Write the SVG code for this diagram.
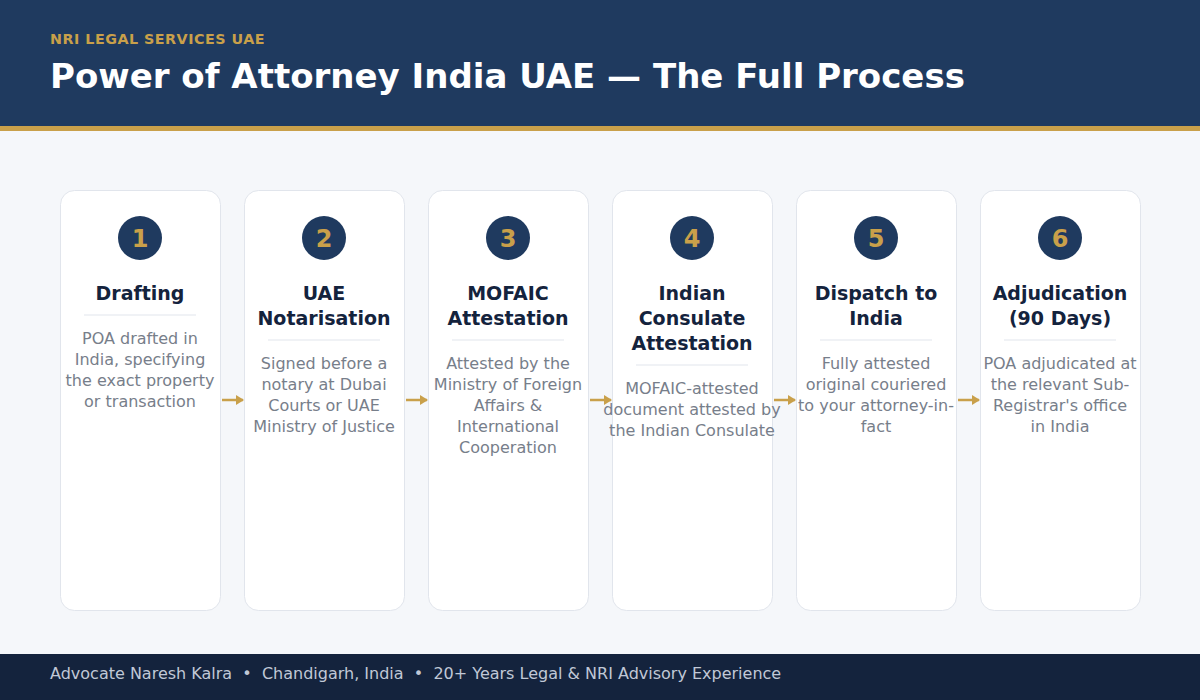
<svg xmlns="http://www.w3.org/2000/svg" width="1200" height="700" viewBox="0 0 1200 700">
<style>
text{font-family:"DejaVu Sans",sans-serif}
.card{fill:#fff;stroke:#e1e5ec;stroke-width:1}
.num{fill:#c9a04a;font-size:24px;font-weight:bold;text-anchor:middle}
.t{fill:#14233d;font-size:19px;font-weight:bold;text-anchor:middle}
.b{fill:#777e8a;font-size:16px;text-anchor:middle}
.div{stroke:#e1e5ec;stroke-width:1}
.arr{stroke:#c9a04a;stroke-width:2.5}
</style>
<defs><marker id="ah" markerWidth="8" markerHeight="10" refX="7" refY="5" orient="auto" markerUnits="userSpaceOnUse"><path d="M0,0L8,5L0,10z" fill="#c9a04a"/></marker></defs>
<rect width="1200" height="700" fill="#f5f7fa"/>
<rect width="1200" height="126" fill="#1f3a5f"/>
<rect y="126" width="1200" height="5" fill="#c9a04a"/>
<text x="50" y="44" fill="#c9a04a" font-size="14.3" font-weight="bold" letter-spacing="0.5">NRI LEGAL SERVICES UAE</text>
<text x="50" y="88" fill="#fff" font-size="34" font-weight="bold">Power of Attorney India UAE — The Full Process</text>
<rect y="654" width="1200" height="46" fill="#14233d"/>
<text x="50" y="679" fill="#c0c8d6" font-size="16">Advocate Naresh Kalra &#160;•&#160; Chandigarh, India &#160;•&#160; 20+ Years Legal &amp; NRI Advisory Experience</text>
<g id="connectors">
<line class="arr" x1="222" y1="400" x2="243" y2="400" marker-end="url(#ah)"/>
<line class="arr" x1="406" y1="400" x2="427" y2="400" marker-end="url(#ah)"/>
<line class="arr" x1="590" y1="400" x2="611" y2="400" marker-end="url(#ah)"/>
<line class="arr" x1="774" y1="400" x2="795" y2="400" marker-end="url(#ah)"/>
<line class="arr" x1="958" y1="400" x2="979" y2="400" marker-end="url(#ah)"/>
</g>
<g id="step1"><rect class="card" x="60.5" y="190.5" width="160" height="420" rx="14"/><circle cx="140" cy="238" r="22" fill="#1f3a5f"/><text class="num" x="140" y="247">1</text>
<text class="t" x="140" y="300">Drafting</text><line class="div" x1="84" y1="315" x2="196" y2="315"/>
<text class="b" x="140" y="344">POA drafted in</text><text class="b" x="140" y="365">India, specifying</text><text class="b" x="140" y="386">the exact property</text><text class="b" x="140" y="407">or transaction</text></g>
<g id="step2"><rect class="card" x="244.5" y="190.5" width="160" height="420" rx="14"/><circle cx="324" cy="238" r="22" fill="#1f3a5f"/><text class="num" x="324" y="247">2</text>
<text class="t" x="324" y="300">UAE</text><text class="t" x="324" y="325">Notarisation</text><line class="div" x1="268" y1="340" x2="380" y2="340"/>
<text class="b" x="324" y="369">Signed before a</text><text class="b" x="324" y="390">notary at Dubai</text><text class="b" x="324" y="411">Courts or UAE</text><text class="b" x="324" y="432">Ministry of Justice</text></g>
<g id="step3"><rect class="card" x="428.5" y="190.5" width="160" height="420" rx="14"/><circle cx="508" cy="238" r="22" fill="#1f3a5f"/><text class="num" x="508" y="247">3</text>
<text class="t" x="508" y="300">MOFAIC</text><text class="t" x="508" y="325">Attestation</text><line class="div" x1="452" y1="340" x2="564" y2="340"/>
<text class="b" x="508" y="369">Attested by the</text><text class="b" x="508" y="390">Ministry of Foreign</text><text class="b" x="508" y="411">Affairs &amp;</text><text class="b" x="508" y="432">International</text><text class="b" x="508" y="453">Cooperation</text></g>
<g id="step4"><rect class="card" x="612.5" y="190.5" width="160" height="420" rx="14"/><circle cx="692" cy="238" r="22" fill="#1f3a5f"/><text class="num" x="692" y="247">4</text>
<text class="t" x="692" y="300">Indian</text><text class="t" x="692" y="325">Consulate</text><text class="t" x="692" y="350">Attestation</text><line class="div" x1="636" y1="365" x2="748" y2="365"/>
<text class="b" x="692" y="394">MOFAIC-attested</text><text class="b" x="692" y="415">document attested by</text><text class="b" x="692" y="436">the Indian Consulate</text></g>
<g id="step5"><rect class="card" x="796.5" y="190.5" width="160" height="420" rx="14"/><circle cx="876" cy="238" r="22" fill="#1f3a5f"/><text class="num" x="876" y="247">5</text>
<text class="t" x="876" y="300">Dispatch to</text><text class="t" x="876" y="325">India</text><line class="div" x1="820" y1="340" x2="932" y2="340"/>
<text class="b" x="876" y="369">Fully attested</text><text class="b" x="876" y="390">original couriered</text><text class="b" x="876" y="411">to your attorney-in-</text><text class="b" x="876" y="432">fact</text></g>
<g id="step6"><rect class="card" x="980.5" y="190.5" width="160" height="420" rx="14"/><circle cx="1060" cy="238" r="22" fill="#1f3a5f"/><text class="num" x="1060" y="247">6</text>
<text class="t" x="1060" y="300">Adjudication</text><text class="t" x="1060" y="325">(90 Days)</text><line class="div" x1="1004" y1="340" x2="1116" y2="340"/>
<text class="b" x="1060" y="369">POA adjudicated at</text><text class="b" x="1060" y="390">the relevant Sub-</text><text class="b" x="1060" y="411">Registrar's office</text><text class="b" x="1060" y="432">in India</text></g>
</svg>
